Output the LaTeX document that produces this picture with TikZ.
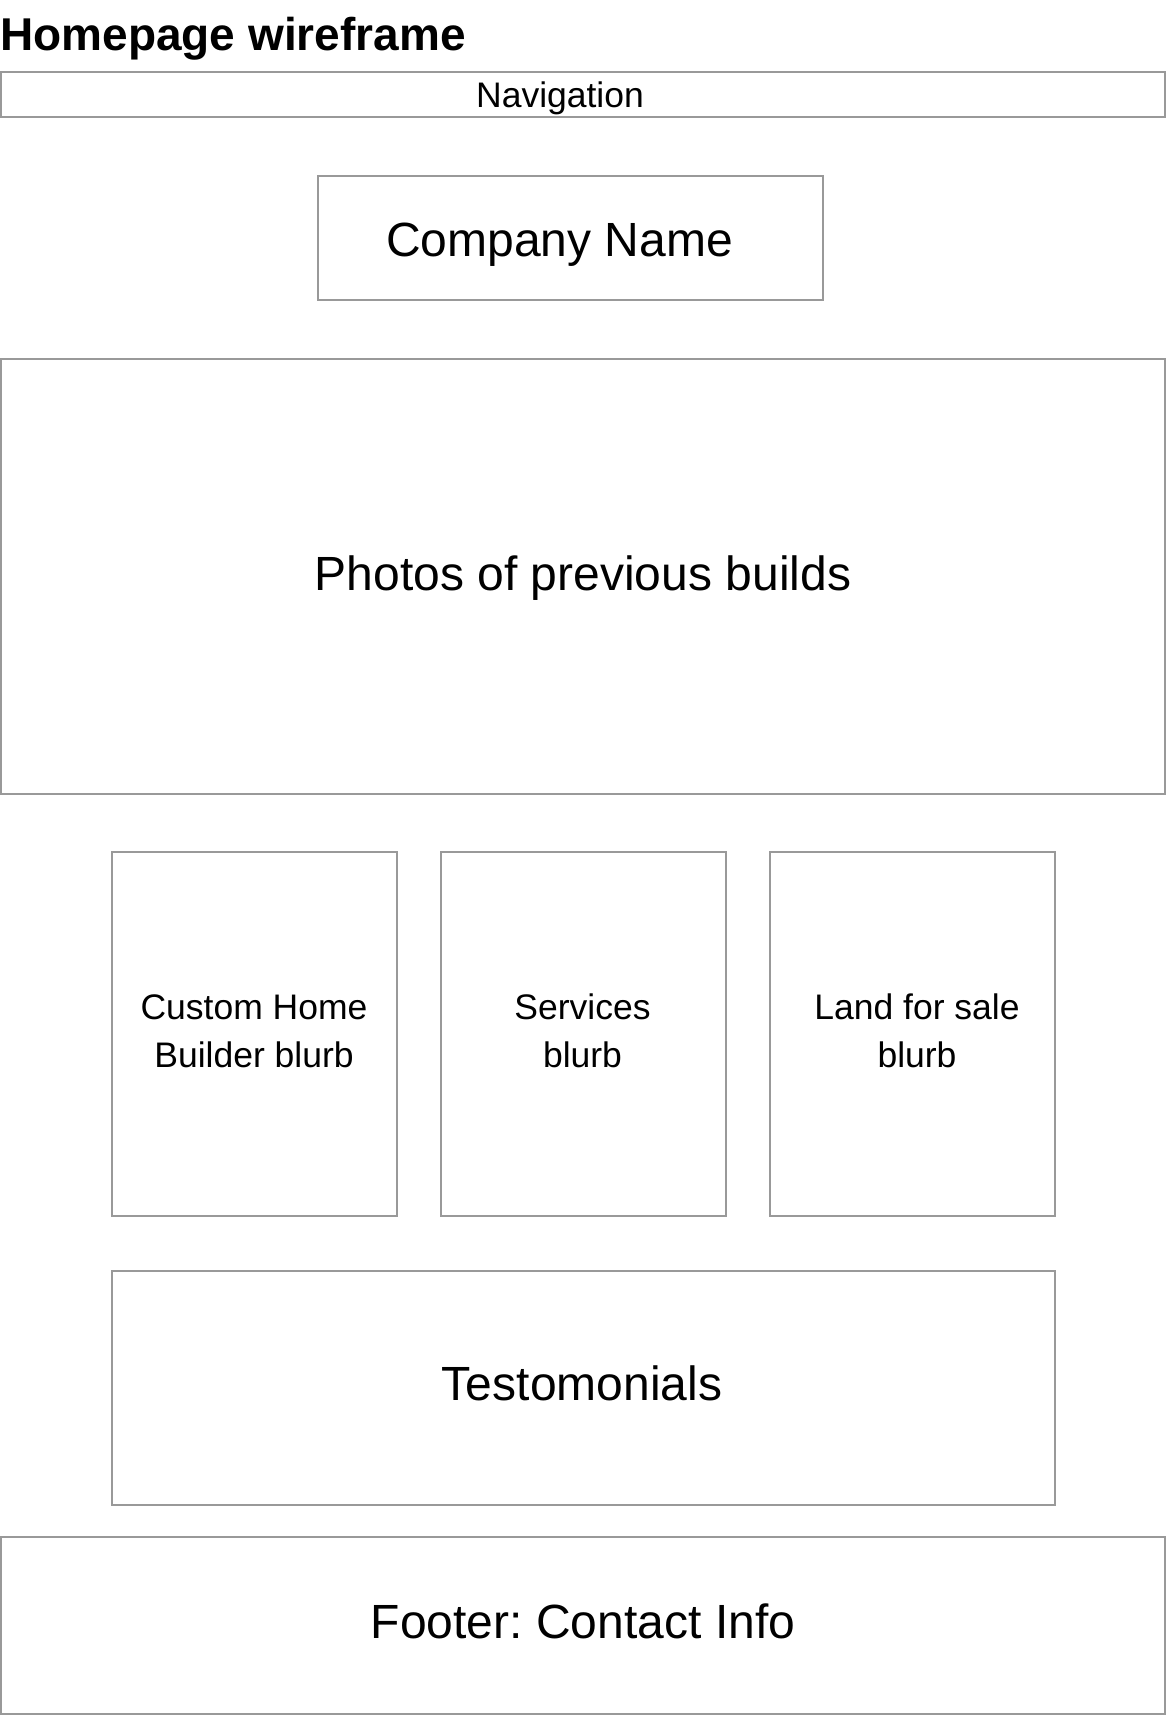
\documentclass[tikz,border=0pt]{standalone}
\usepackage{fontspec}
\setmainfont{Liberation Sans}
\usetikzlibrary{positioning}
\definecolor{wfgray}{HTML}{999999}
\frenchspacing
\begin{document}
\begin{tikzpicture}[x=0.5pt,y=-0.5pt,
  wfbox/.style={draw=wfgray,line width=1pt},
  bigtext/.style={font=\fontsize{24}{28}\selectfont,inner sep=0pt,anchor=base},
  smalltext/.style={font=\fontsize{17.75}{24}\selectfont,inner sep=0pt,anchor=base,align=center}]
 \useasboundingbox (0,0) rectangle (1166,1715);
 \node[font=\bfseries\fontsize{23}{26}\selectfont,inner sep=0pt,anchor=base west] (title) at (0,50) {Homepage wireframe};
 \draw[wfbox](1,72) rectangle (1165,117);
 \draw[wfbox](318,176) rectangle (823,300);
 \draw[wfbox](1,359) rectangle (1165,794);
 \draw[wfbox](112,852) rectangle (397,1216);
 \draw[wfbox](441,852) rectangle (726,1216);
 \draw[wfbox](770,852) rectangle (1055,1216);
 \draw[wfbox](112,1271) rectangle (1055,1505);
 \draw[wfbox](1,1537) rectangle (1165,1713.5);
 \node[smalltext] (nav) at (560,107.5) {Navigation};
 \node[bigtext] (company) at (559.5,256) {Company Name};
 \node[bigtext] (photos) at (583,590) {Photos of previous builds};
 \node[smalltext] (custom) at (254,1067.5) {Custom Home\\Builder blurb};
 \node[smalltext] (services) at (582.5,1067.5) {Services\\blurb};
 \node[smalltext] (land) at (917,1067.5) {Land for sale\\blurb};
 \node[bigtext] (testimonials) at (582,1400) {Testomonials};
 \node[bigtext] (footer) at (583,1638) {Footer: Contact Info};
\end{tikzpicture}
\end{document}
